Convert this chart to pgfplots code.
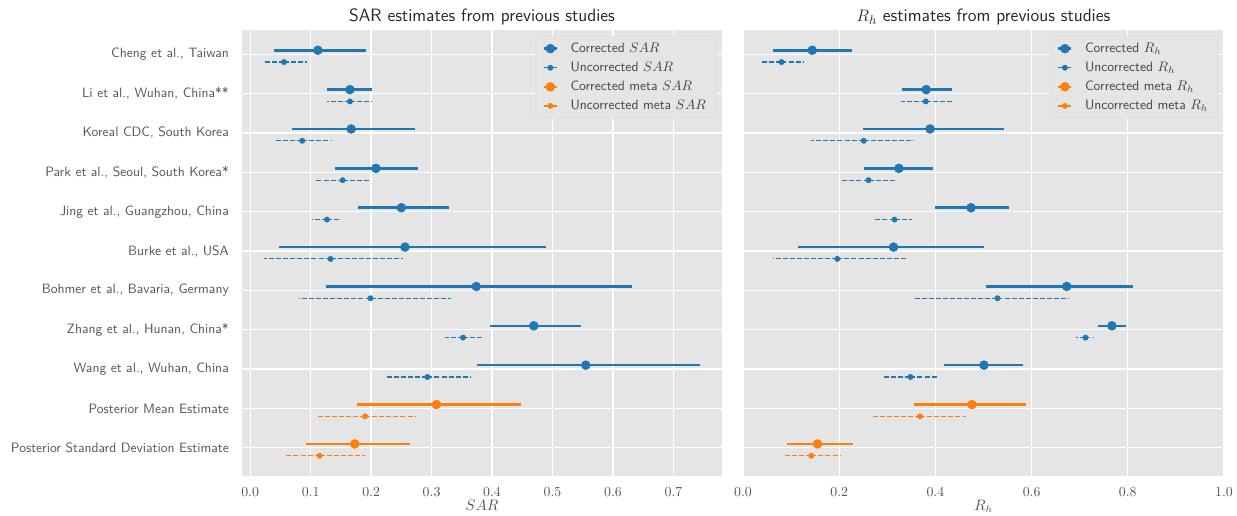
\documentclass[border=0pt]{standalone}
\usepackage{pgfplots}
\pgfplotsset{compat=1.18}
\usepackage{pgfplotstable}
\definecolor{tblue}{HTML}{1F77B4}
\definecolor{torange}{HTML}{FF7F0E}
\definecolor{bgc}{HTML}{E5E5E5}
\definecolor{txt}{HTML}{555555}
\definecolor{legtxt}{HTML}{444444}

% SAR panel: y positions, corrected (centre, low, high), uncorrected (centre, low, high)
\pgfplotstableread{
yc   yu   cc    clo   chi   uc    ulo   uhi
-0.1 0.2  0.112 0.040 0.191 0.056 0.023 0.094
0.9  1.2  0.165 0.127 0.201 0.165 0.127 0.201
1.9  2.2  0.167 0.070 0.273 0.086 0.040 0.134
2.9  3.2  0.208 0.140 0.277 0.153 0.107 0.198
3.9  4.2  0.250 0.178 0.329 0.127 0.102 0.150
4.9  5.2  0.256 0.047 0.489 0.133 0.023 0.252
5.9  6.2  0.374 0.126 0.631 0.199 0.080 0.332
6.9  7.2  0.469 0.397 0.547 0.352 0.322 0.383
7.9  8.2  0.555 0.375 0.744 0.293 0.223 0.365
}\SARstudies
\pgfplotstableread{
yc   yu    cc    clo   chi   uc    ulo   uhi
8.9  9.2   0.308 0.176 0.448 0.190 0.112 0.274
9.9  10.2  0.173 0.093 0.265 0.115 0.058 0.190
}\SARmeta
% R_h panel
\pgfplotstableread{
yc   yu   cc    clo   chi   uc    ulo   uhi
-0.1 0.2  0.144 0.063 0.227 0.080 0.036 0.126
0.9  1.2  0.381 0.331 0.434 0.380 0.329 0.434
1.9  2.2  0.389 0.249 0.542 0.251 0.142 0.356
2.9  3.2  0.324 0.252 0.395 0.261 0.205 0.319
3.9  4.2  0.474 0.400 0.553 0.315 0.274 0.352
4.9  5.2  0.313 0.114 0.500 0.196 0.063 0.338
5.9  6.2  0.673 0.506 0.811 0.529 0.354 0.678
6.9  7.2  0.767 0.739 0.796 0.712 0.693 0.729
7.9  8.2  0.501 0.418 0.583 0.348 0.294 0.405
}\RHstudies
\pgfplotstableread{
yc   yu    cc    clo   chi   uc    ulo   uhi
8.9  9.2   0.476 0.355 0.588 0.368 0.269 0.464
9.9  10.2  0.155 0.092 0.229 0.142 0.087 0.202
}\RHmeta

\pgfplotsset{
  myaxis/.style={
    scale only axis, height=321.12bp,
    y dir=reverse, ymin=-0.615, ymax=10.715, ytick={0,...,10},
    axis background/.style={fill=bgc},
    axis line style={draw=none},
    grid=major, major grid style={white, line width=0.9bp},
    major tick length=0pt, tick style={draw=none},
    tick label style={color=txt, font=\fontsize{10}{12}\selectfont},
    xticklabel style={yshift=-4.5bp, /pgf/number format/.cd, fixed, fixed zerofill, precision=1},
    yticklabel style={xshift=-6bp, font=\sffamily\fontsize{9.8}{11}\selectfont},
    every axis title shift=0pt,
    title style={at={(0.5,1)}, anchor=base, yshift=6bp, font=\sffamily\fontsize{12.9}{15}\selectfont, color=black!85},
    every axis x label/.style={at={(axis description cs:0.5,0)}, anchor=base, yshift=-24.5bp, font=\fontsize{10.5}{12}\selectfont, color=txt},
    legend cell align=left,
    legend style={at={(0.9875,0.9865)}, anchor=north east, fill=bgc, draw=black!15, rounded corners=2bp,
      font=\sffamily\fontsize{9.8}{11.5}\selectfont, text=legtxt, row sep=0pt, inner xsep=3.5bp, inner ysep=2bp,
      nodes={inner ysep=2.7bp, inner xsep=3.5bp}},
  },
  corr/.style={only marks, mark=*, mark size=3.2bp,
    error bars/x dir=both, error bars/x explicit, error bars/error mark=none,
    error bars/error bar style={line width=1.8bp, solid}},
  unc/.style={only marks, mark=*, mark size=1.9bp,
    error bars/x dir=both, error bars/x explicit, error bars/error mark=none,
    error bars/error bar style={line width=0.85bp, dash pattern=on 3.6bp off 1.5bp}},
  legcb/.style={legend image code/.code={\path[draw=none, fill=none] (0bp,0bp) -- (18bp,0bp); \draw[tblue, line width=1.8bp, solid] (2.3bp,0bp) -- (11.7bp,0bp); \fill[tblue] (7bp,0bp) circle (3.2bp);}},
  legub/.style={legend image code/.code={\path[draw=none, fill=none] (0bp,0bp) -- (18bp,0bp); \draw[tblue, line width=1bp, solid] (2.3bp,0bp) -- (11.7bp,0bp); \fill[tblue] (7bp,0bp) circle (1.9bp);}},
  legco/.style={legend image code/.code={\path[draw=none, fill=none] (0bp,0bp) -- (18bp,0bp); \draw[torange, line width=1.8bp, solid] (2.3bp,0bp) -- (11.7bp,0bp); \fill[torange] (7bp,0bp) circle (3.2bp);}},
  leguo/.style={legend image code/.code={\path[draw=none, fill=none] (0bp,0bp) -- (18bp,0bp); \draw[torange, line width=1bp, solid] (2.3bp,0bp) -- (11.7bp,0bp); \fill[torange] (7bp,0bp) circle (1.9bp);}},
}

\begin{document}
\begin{tikzpicture}
\begin{axis}[myaxis,
  at={({242*0.72bp},{40*0.72bp})}, anchor=south west,
  width=345.6bp,
  xmin=-0.0135, xmax=0.7803,
  xtick={0,0.1,...,0.7},
  yticklabels={{Cheng et al., Taiwan}, {Li et al., Wuhan, China**}, {Koreal CDC, South Korea},
    {Park et al., Seoul, South Korea*}, {Jing et al., Guangzhou, China}, {Burke et al., USA},
    {Bohmer et al., Bavaria, Germany}, {Zhang et al., Hunan, China*}, {Wang et al., Wuhan, China},
    {Posterior Mean Estimate}, {Posterior Standard Deviation Estimate}},
  title={SAR estimates from previous studies},
  xlabel={$SAR$},
]
\addplot[corr, color=tblue, legcb] table[x=cc, y=yc, x error plus expr=\thisrow{chi}-\thisrow{cc}, x error minus expr=\thisrow{cc}-\thisrow{clo}] {\SARstudies};
\addlegendentry{Corrected $SAR$}
\addplot[unc, color=tblue, legub] table[x=uc, y=yu, x error plus expr=\thisrow{uhi}-\thisrow{uc}, x error minus expr=\thisrow{uc}-\thisrow{ulo}] {\SARstudies};
\addlegendentry{Uncorrected $SAR$}
\addplot[corr, color=torange, legco] table[x=cc, y=yc, x error plus expr=\thisrow{chi}-\thisrow{cc}, x error minus expr=\thisrow{cc}-\thisrow{clo}] {\SARmeta};
\addlegendentry{Corrected meta $SAR$}
\addplot[unc, color=torange, leguo] table[x=uc, y=yu, x error plus expr=\thisrow{uhi}-\thisrow{uc}, x error minus expr=\thisrow{uc}-\thisrow{ulo}] {\SARmeta};
\addlegendentry{Uncorrected meta $SAR$}
\end{axis}

\begin{axis}[myaxis,
  at={({743*0.72bp},{40*0.72bp})}, anchor=south west,
  width=346.3bp,
  xmin=0, xmax=1,
  xtick={0,0.2,...,1.0},
  yticklabels={},
  title={$R_h$ estimates from previous studies},
  xlabel={$R_h$},
]
\addplot[corr, color=tblue, legcb] table[x=cc, y=yc, x error plus expr=\thisrow{chi}-\thisrow{cc}, x error minus expr=\thisrow{cc}-\thisrow{clo}] {\RHstudies};
\addlegendentry{Corrected $R_h$}
\addplot[unc, color=tblue, legub] table[x=uc, y=yu, x error plus expr=\thisrow{uhi}-\thisrow{uc}, x error minus expr=\thisrow{uc}-\thisrow{ulo}] {\RHstudies};
\addlegendentry{Uncorrected $R_h$}
\addplot[corr, color=torange, legco] table[x=cc, y=yc, x error plus expr=\thisrow{chi}-\thisrow{cc}, x error minus expr=\thisrow{cc}-\thisrow{clo}] {\RHmeta};
\addlegendentry{Corrected meta $R_h$}
\addplot[unc, color=torange, leguo] table[x=uc, y=yu, x error plus expr=\thisrow{uhi}-\thisrow{uc}, x error minus expr=\thisrow{uc}-\thisrow{ulo}] {\RHmeta};
\addlegendentry{Uncorrected meta $R_h$}
\end{axis}
\pgfresetboundingbox
\path[use as bounding box] (0,0) rectangle ({1237*0.72bp},{516*0.72bp});
\end{tikzpicture}
\end{document}
